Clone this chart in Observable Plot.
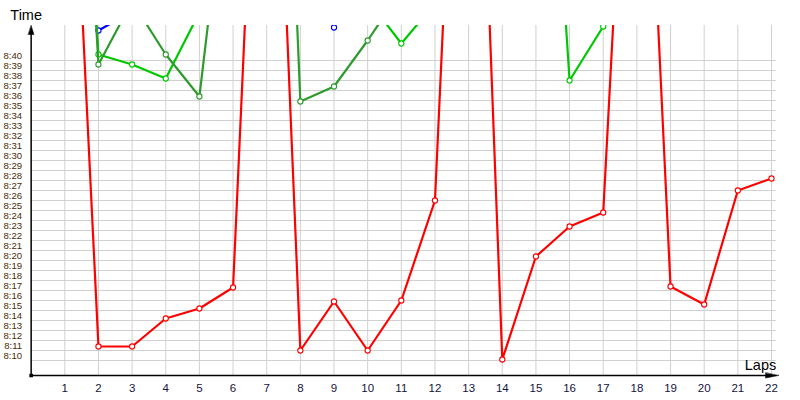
<!DOCTYPE html>
<html>
<head>
<meta charset="utf-8">
<script src="https://cdn.jsdelivr.net/npm/d3@7"></script>
<script src="https://cdn.jsdelivr.net/npm/@observablehq/plot@0.6"></script>
<style>
  body { margin: 0; background: #fff; }
  svg { display: block; }
</style>
</head>
<body>
<div id="chart"></div>
<script>
// Laps (x categories)
const laps = [1, 2, 3, 4, 5, 6, 7, 8, 9, 10, 11, 12, 13, 14, 15, 16, 17, 18, 19, 20, 21, 22];

// Lap times in seconds (8:10 = 490 s); values above 8:43 run off the top of the chart
const redTimes = [560.2, 490.9, 490.9, 493.7, 494.7, 496.8, 571.5, 490.5, 495.4, 490.5, 495.5,
                  505.5, 579.0, 489.6, 499.9, 502.9, 504.3, 568.0, 496.9, 495.1, 506.5, 507.7];
const darkGreenTimes = [577.0, 519.1, 525.4, 520.1, 515.9, 544.3, 596.5, 515.4, 516.9, 521.5, 526.5,
                        null, null, null, null, null, null, null, null, null, null, null];
const lightGreenTimes = [575.0, 520.1, 519.1, 517.7, 524.3, null, null, null, null, 525.6, 521.2,
                         525.2, null, null, 569.0, 517.5, 522.9, null, null, null, null, null];
const blueTimes = [null, 522.5, 524.4, null, null, null, null, null, 522.8, 530.0, null,
                   null, null, null, null, null, null, null, null, null, null, null];

// Y tick values (seconds) labelled m:ss
const yTicks = [490, 491, 492, 493, 494, 495, 496, 497, 498, 499, 500, 501, 502, 503, 504, 505,
                506, 507, 508, 509, 510, 511, 512, 513, 514, 515, 516, 517, 518, 519, 520];

const seriesList = [
  {name: "blue", values: blueTimes, color: "#0000ff"},
  {name: "lightGreen", values: lightGreenTimes, color: "#00c800"},
  {name: "darkGreen", values: darkGreenTimes, color: "#2e9b2e"},
  {name: "red", values: redTimes, color: "#ff0000"}
];

const Y_MIN = 488, Y_MAX = 523;
const X_MAX = 22.14, X_ARROW = 22.21;

const fmt = v => `${Math.floor(v / 60)}:${String(v % 60).padStart(2, "0")}`;

const arrowShape = {
  draw(ctx, l, r) {
    ctx.moveTo(0, -l);
    ctx.lineTo(r, 0);
    ctx.lineTo(-r, 0);
    ctx.closePath();
  }
};

const seriesMarks = seriesList.flatMap(s => {
  const rows = laps.map((lap, i) => ({lap, t: s.values[i]}));
  return [
    Plot.line(rows, {x: "lap", y: "t", stroke: s.color, strokeWidth: 2.2, clip: true}),
    Plot.dot(rows.filter(d => d.t != null), {x: "lap", y: "t", r: 2.6, fill: "white",
      stroke: s.color, strokeWidth: 1.1, clip: true})
  ];
});

const chart = Plot.plot({
  width: 800,
  height: 400,
  marginLeft: 30.65,
  marginRight: 24.3,
  marginTop: 25,
  marginBottom: 25,
  style: {fontFamily: "'Liberation Sans', Arial, sans-serif", background: "white"},
  x: {domain: [0, X_MAX], axis: null},
  y: {domain: [Y_MIN, Y_MAX], axis: null},
  marks: [
    // grid
    Plot.ruleX(laps, {x: d => d, y1: Y_MIN, y2: Y_MAX, stroke: "#d0d0d0", strokeWidth: 1}),
    Plot.ruleY(yTicks, {y: d => d - 0.5, x1: 0, x2: X_MAX, stroke: "#d0d0d0", strokeWidth: 1}),
    // data
    ...seriesMarks,
    // axes
    Plot.ruleY([Y_MIN], {x1: 0, x2: X_ARROW - 0.2, stroke: "black", strokeWidth: 1.5}),
    Plot.ruleX([0], {y1: Y_MIN, y2: Y_MAX - 0.4, stroke: "black", strokeWidth: 1.5}),
    Plot.vector([0], {x: X_ARROW, y: Y_MIN, length: 13, r: 2.6, rotate: 90, anchor: "end",
      shape: arrowShape, fill: "black", stroke: "black", strokeWidth: 0.5}),
    Plot.vector([0], {x: 0, y: Y_MAX, length: 9, r: 2.8, rotate: 0, anchor: "end",
      shape: arrowShape, fill: "black", stroke: "black", strokeWidth: 0.5}),
    Plot.dot([0], {x: 0, y: Y_MIN, symbol: "square", r: 2, fill: "black"}),
    // tick labels
    Plot.text(yTicks, {x: 0, y: d => d, text: fmt, textAnchor: "end", dx: -9, fontSize: 9.6,
      fill: "#4a2c05"}),
    Plot.text(laps, {x: d => d, y: Y_MIN, dy: 13, text: d => String(d), fontSize: 11.5,
      fill: "#14143c"}),
    // axis titles
    Plot.text(["Time"], {x: 0, y: Y_MAX, dx: -5, dy: -10, text: d => d, fontSize: 14.5,
      fill: "black", textAnchor: "middle"}),
    Plot.text(["Laps"], {x: X_MAX, y: Y_MIN, dy: -10.5, text: d => d, fontSize: 14.5,
      fill: "black", textAnchor: "end"})
  ]
});

document.getElementById("chart").appendChild(chart);
</script>
</body>
</html>
